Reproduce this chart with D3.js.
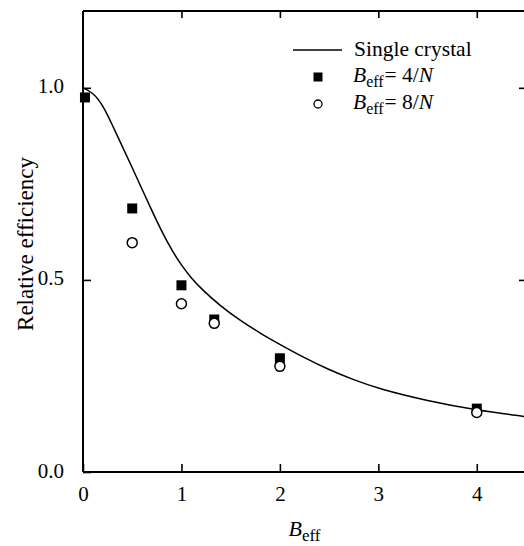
<!DOCTYPE html>
<html>
<head>
<meta charset="utf-8">
<script src="https://cdn.jsdelivr.net/npm/d3@7"></script>
<style>
  html, body { margin: 0; padding: 0; background: #fff; }
  svg, svg text { font-family: "Liberation Serif", "Times New Roman", "DejaVu Serif", serif; }
</style>
</head>
<body>
<script>
// ---- data ----
const curveX = [0, 0.1, 0.2, 0.3, 0.4, 0.5, 0.6, 0.7, 0.8, 0.9, 1.0, 1.1, 1.2, 1.4, 1.6, 1.8, 2.0, 2.25, 2.5, 2.75, 3.0, 3.5, 4.0, 4.5];
const curveY = [1.0, 0.988, 0.956, 0.902, 0.847, 0.792, 0.736, 0.680, 0.626, 0.578, 0.538, 0.505, 0.477, 0.431, 0.394, 0.361, 0.332, 0.297, 0.266, 0.240, 0.217, 0.185, 0.161, 0.144];
const squareX = [0.02, 0.5, 1, 4/3, 2, 4];
const squareY = [0.975, 0.686, 0.486, 0.397, 0.296, 0.165];
const circleX = [0.5, 1, 4/3, 2, 4];
const circleY = [0.597, 0.438, 0.387, 0.275, 0.155];
const xTicks = [0, 1, 2, 3, 4];
const yTicks = [0.0, 0.5, 1.0];
const yTickLabels = ["0.0", "0.5", "1.0"];
const legendLabels = ["Single crystal", "4/", "8/"];

const W = 524, H = 546;
const FONT = '"Liberation Serif", "Times New Roman", "DejaVu Serif", serif';
const x = d3.scaleLinear().domain([0, 4.5]).range([83, 526]);
const y = d3.scaleLinear().domain([0, 1.2]).range([472, 11]);

const svg = d3.select("body").append("svg").attr("width", W).attr("height", H);

svg.append("defs").append("clipPath").attr("id", "clip")
  .append("rect").attr("x", x(0)).attr("y", y(1.2)).attr("width", x(4.5) - x(0)).attr("height", y(0) - y(1.2));

// frame
const frame = svg.append("g").attr("stroke", "#000").attr("fill", "none");
frame.append("line").attr("x1", x(0)).attr("x2", x(4.5)).attr("y1", y(0)).attr("y2", y(0)).attr("stroke-width", 2);
frame.append("line").attr("x1", x(0)).attr("x2", x(0)).attr("y1", y(0)).attr("y2", y(1.2)).attr("stroke-width", 2);
frame.append("line").attr("x1", x(0)).attr("x2", x(4.5)).attr("y1", y(1.2)).attr("y2", y(1.2)).attr("stroke-width", 1.8);
frame.append("line").attr("x1", x(4.5)).attr("x2", x(4.5)).attr("y1", y(0)).attr("y2", y(1.2)).attr("stroke-width", 1.8);

// axes with inward ticks
const fs = 21;
const bottomAxis = d3.axisBottom(x).tickValues(xTicks).tickSize(-8).tickPadding(14).tickFormat(d3.format("d"));
const gB = svg.append("g").attr("transform", `translate(0,${y(0)})`).call(bottomAxis);
const leftAxis = d3.axisLeft(y).tickValues(yTicks).tickSize(-8).tickPadding(19).tickFormat((d, i) => yTickLabels[i]);
const gL = svg.append("g").attr("transform", `translate(${x(0)},0)`).call(leftAxis);
const topAxis = d3.axisTop(x).tickValues(xTicks.slice(1)).tickSize(-7).tickFormat("");
const gT = svg.append("g").attr("transform", `translate(0,${y(1.2)})`).call(topAxis);
const rightAxis = d3.axisRight(y).tickValues(yTicks.slice(1)).tickSize(-7).tickFormat("");
const gR = svg.append("g").attr("transform", `translate(${x(4.5)},0)`).call(rightAxis);
[gB, gL, gT, gR].forEach(g => {
  g.attr("font-family", null).attr("font-size", null);
  g.select(".domain").remove();
  g.selectAll(".tick line").attr("stroke", "#000").attr("stroke-width", 1.6);
  g.selectAll("text").style("font-family", FONT).style("font-size", fs + "px").attr("fill", "#000");
});
gB.selectAll("text").attr("dy", "0.71em");
gL.selectAll("text").attr("dy", "0.24em");

// curve
const line = d3.line().x(d => x(d[0])).y(d => y(d[1])).curve(d3.curveBasis);
svg.append("path")
  .datum(curveX.map((v, i) => [v, curveY[i]]))
  .attr("clip-path", "url(#clip)")
  .attr("d", line).attr("fill", "none").attr("stroke", "#000").attr("stroke-width", 1.5);

// squares
const sq = 10;
svg.append("g").selectAll("rect").data(squareX.map((v, i) => [v, squareY[i]])).join("rect")
  .attr("x", d => x(d[0]) - sq / 2).attr("y", d => y(d[1]) - sq / 2)
  .attr("width", sq).attr("height", sq).attr("fill", "#000");

// circles
svg.append("g").selectAll("circle").data(circleX.map((v, i) => [v, circleY[i]])).join("circle")
  .attr("cx", d => x(d[0])).attr("cy", d => y(d[1])).attr("r", 5)
  .attr("fill", "#fff").attr("stroke", "#000").attr("stroke-width", 1.5);

// legend
const lg = svg.append("g").style("font-family", FONT).style("font-size", "21.5px").attr("fill", "#000");
const rowY = [50, 77, 104];
lg.append("line").attr("x1", 293).attr("x2", 342).attr("y1", rowY[0]).attr("y2", rowY[0]).attr("stroke", "#000").attr("stroke-width", 1.5);
lg.append("text").attr("x", 354).attr("y", rowY[0] + 6).text(legendLabels[0]);
lg.append("rect").attr("x", 318 - 4.5).attr("y", rowY[1] - 4.5).attr("width", 9).attr("height", 9).attr("fill", "#000");
lg.append("circle").attr("cx", 318).attr("cy", rowY[2]).attr("r", 4).attr("fill", "#fff").attr("stroke", "#000").attr("stroke-width", 1.3);
[1, 2].forEach(k => {
  const t = lg.append("text").attr("x", 353).attr("y", rowY[k] + 5);
  t.append("tspan").style("font-style", "italic").text("B");
  t.append("tspan").style("font-size", "16px").attr("dy", 5).text("eff");
  t.append("tspan").attr("dy", -5).attr("dx", 1).text("= " + legendLabels[k]);
  t.append("tspan").style("font-style", "italic").text("N");
});

// axis titles
const xt = svg.append("text").attr("x", x(2.25)).attr("y", 536).attr("text-anchor", "middle")
  .style("font-family", FONT).style("font-size", "22px");
xt.append("tspan").style("font-style", "italic").text("B");
xt.append("tspan").style("font-size", "17px").attr("dy", 5).text("eff");

svg.append("text").attr("transform", "translate(33,244) rotate(-90)").attr("text-anchor", "middle")
  .style("font-family", FONT).style("font-size", "23px").text("Relative efficiency");
</script>
</body>
</html>
